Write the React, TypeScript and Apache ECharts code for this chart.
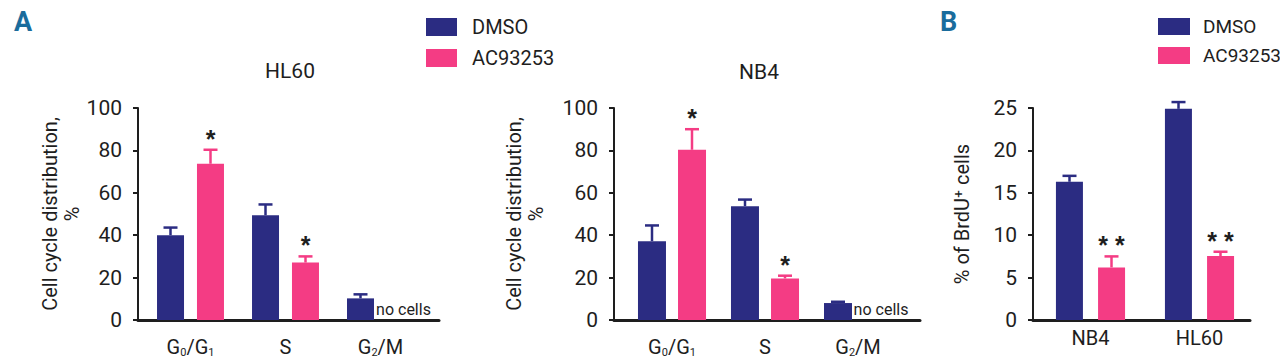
import { useEffect, useRef } from "react";
import * as echarts from "echarts";

// ---------- data ----------
const phases = ["G0/G1", "S", "G2/M"];
const hl60Dmso = [40, 49.4, 10.2];
const hl60DmsoErr = [3.6, 5.1, 1.9];
const hl60Ac = [73.7, 27.1, 0];
const hl60AcErr = [6.6, 2.9, 0];
const hl60Sig = ["*", "*", ""];
const nb4Dmso = [37.2, 53.7, 8.0];
const nb4DmsoErr = [7.4, 3.1, 0.6];
const nb4Ac = [80.3, 19.6, 0];
const nb4AcErr = [9.7, 1.3, 0];
const nb4Sig = ["*", "*", ""];
const acNotes = ["", "", "no cells"];
const cellLines = ["NB4", "HL60"];
const brduDmso = [16.3, 24.9];
const brduDmsoErr = [0.7, 0.8];
const brduAc = [6.2, 7.55];
const brduAcErr = [1.3, 0.5];
const brduSig = ["* *", "* *"];
const seriesNames = ["DMSO", "AC93253"];

const NAVY = "#2B2C82";
const PINK = "#F43C84";
const INK = "#1e1e1e";
const FONT = "Roboto, 'Liberation Sans', sans-serif";

function errSeries(gi: number, vals: number[], errs: number[], offset: number, color: string, sig?: string[]) {
  return {
    type: "custom",
    name: "err" + gi + color,
    xAxisIndex: gi,
    yAxisIndex: gi,
    z: 3,
    data: vals.map((v, i) => [i, v, errs[i]]),
    encode: { x: 0, y: 1 },
    renderItem: (params: any, api: any) => {
      const i = api.value(0);
      const v = api.value(1);
      const e = api.value(2);
      const s = sig ? sig[params.dataIndex] : "";
      const b = api.coord([i, v]);
      const t = api.coord([i, v + e]);
      const x = b[0] + offset;
      const children: any[] = [];
      if (e > 0) {
        children.push(
          { type: "line", shape: { x1: x, y1: b[1], x2: x, y2: t[1] }, style: { stroke: color, lineWidth: 2.5 } },
          { type: "line", shape: { x1: x - 7, y1: t[1], x2: x + 7, y2: t[1] }, style: { stroke: color, lineWidth: 2.5 } }
        );
      }
      if (s) {
        children.push({
          type: "text",
          x,
          y: t[1] - 11,
          style: { text: s, fontSize: 25, fontWeight: "bold", fontFamily: "'Liberation Sans', sans-serif", fill: INK, align: "center", verticalAlign: "middle" },
        });
      }
      return { type: "group", children };
    },
  };
}

function panel(cfg: any) {
  const g = cfg.gi;
  const grids = [
    { left: cfg.decoLeft, width: cfg.decoWidth, top: 108, height: 212 },
    { left: cfg.dataLeft, width: cfg.dataWidth, top: 108, height: 212 },
  ];
  const xAxes = [
    {
      type: "category", gridIndex: g, data: [""],
      axisLine: { show: true, lineStyle: { color: INK, width: 3 } },
      axisTick: { show: false }, axisLabel: { show: false },
    },
    {
      type: "category", gridIndex: g + 1, data: cfg.cats,
      axisLine: { show: false }, axisTick: { show: false },
      axisLabel: {
        interval: 0,
        fontSize: 20, color: INK, fontFamily: FONT, margin: cfg.labelMargin,
        formatter: (v: string) => v.replace(/G(\d)/g, "G{s|$1}"),
        rich: { s: { fontSize: 11, fontFamily: FONT, color: INK, verticalAlign: "bottom", padding: [0, 0, -1, 0] } },
      },
    },
  ];
  const yAxes = [
    {
      type: "value", gridIndex: g, min: 0, max: cfg.yMax, interval: cfg.yInterval,
      axisLine: { show: true, lineStyle: { color: INK, width: 2 } },
      axisTick: { show: true, length: 5, lineStyle: { color: INK, width: 2 } },
      axisLabel: { fontSize: 21, color: INK, fontFamily: FONT, margin: 16 },
      splitLine: { show: false },
      name: cfg.yName, nameLocation: "middle", nameGap: cfg.nameGap, nameRotate: 90,
      nameTextStyle: { fontSize: 20, lineHeight: 22, color: INK, fontFamily: FONT },
    },
    { type: "value", gridIndex: g + 1, min: 0, max: cfg.yMax, interval: cfg.yInterval, show: false },
  ];
  const gapPct = Math.round((cfg.gap / cfg.barWidth) * 100) + "%";
  const off = (cfg.barWidth + cfg.gap) / 2;
  const series = [
    {
      type: "bar", name: seriesNames[0], xAxisIndex: g + 1, yAxisIndex: g + 1,
      data: cfg.dmso, barWidth: cfg.barWidth, barGap: gapPct, itemStyle: { color: NAVY },
    },
    {
      type: "bar", name: seriesNames[1], xAxisIndex: g + 1, yAxisIndex: g + 1,
      barWidth: cfg.barWidth, barGap: gapPct, itemStyle: { color: PINK },
      data: cfg.ac.map((v: number, i: number) =>
        cfg.notes && cfg.notes[i]
          ? { value: v, label: { show: true, position: "top", distance: 3, formatter: cfg.notes[i], fontSize: 16, color: INK, fontFamily: FONT, offset: [3, 0] } }
          : v
      ),
    },
    errSeries(g + 1, cfg.dmso, cfg.dmsoErr, -off, NAVY),
    errSeries(g + 1, cfg.ac, cfg.acErr, off, PINK, cfg.sig),
  ];
  return { grids, xAxes, yAxes, series };
}

export default function App() {
  const ref = useRef<HTMLDivElement>(null);
  useEffect(() => {
    document.body.style.margin = "0";
    if (!ref.current) return;
    const chart = echarts.init(ref.current, null, { renderer: "svg" });
    const panels = [
      panel({
        gi: 0, decoLeft: 138, decoWidth: 301, dataLeft: 143, dataWidth: 285,
        yMax: 100, yInterval: 20, yName: "Cell cycle distribution,\n%", nameGap: 44,
        cats: phases, dmso: hl60Dmso, dmsoErr: hl60DmsoErr, ac: hl60Ac, acErr: hl60AcErr,
        sig: hl60Sig, notes: acNotes, barWidth: 27, gap: 13, labelMargin: 17,
      }),
      panel({
        gi: 2, decoLeft: 614, decoWidth: 306, dataLeft: 625.5, dataWidth: 279,
        yMax: 100, yInterval: 20, yName: "Cell cycle distribution,\n%", nameGap: 67,
        cats: phases, dmso: nb4Dmso, dmsoErr: nb4DmsoErr, ac: nb4Ac, acErr: nb4AcErr,
        sig: nb4Sig, notes: acNotes, barWidth: 28, gap: 12, labelMargin: 17,
      }),
      panel({
        gi: 4, decoLeft: 1033, decoWidth: 217, dataLeft: 1036, dataWidth: 218,
        yMax: 25, yInterval: 5, yName: "% of BrdU\u207A cells", nameGap: 60,
        cats: cellLines, dmso: brduDmso, dmsoErr: brduDmsoErr, ac: brduAc, acErr: brduAcErr,
        sig: brduSig, barWidth: 27, gap: 15, labelMargin: 8,
      }),
    ];
    const legendBase = {
      orient: "vertical", icon: "rect", data: seriesNames, selectedMode: false,
      textStyle: { fontSize: 20, color: INK, fontFamily: FONT, lineHeight: 18, padding: [0, 0, 0, 10] },
    };
    chart.setOption({
      animation: false,
      backgroundColor: "#ffffff",
      grid: panels.flatMap((p) => p.grids),
      xAxis: panels.flatMap((p) => p.xAxes),
      yAxis: panels.flatMap((p) => p.yAxes),
      series: panels.flatMap((p) => p.series),
      legend: [
        { ...legendBase, left: 421, top: 12, itemWidth: 31, itemHeight: 18, itemGap: 11 },
        {
          ...legendBase, left: 1153, top: 12, itemWidth: 32, itemHeight: 17, itemGap: 10,
          textStyle: { ...legendBase.textStyle, fontSize: 19, padding: [0, 0, 0, 8] },
        },
      ],
      graphic: [
        { type: "text", left: 14, top: 8, style: { text: "A", fontSize: 27, fontWeight: "bold", fontFamily: FONT, fill: "#1A6C9C" } },
        { type: "text", left: 940, top: 8, style: { text: "B", fontSize: 27, fontWeight: "bold", fontFamily: FONT, fill: "#1A6C9C" } },
        { type: "text", x: 290, y: 71, style: { text: "HL60", fontSize: 21, fontFamily: FONT, fill: INK, align: "center", verticalAlign: "middle" } },
        { type: "text", x: 759, y: 72, style: { text: "NB4", fontSize: 21, fontFamily: FONT, fill: INK, align: "center", verticalAlign: "middle" } },
      ],
    });
    return () => chart.dispose();
  }, []);
  return <div ref={ref} style={{ width: 1280, height: 364 }} />;
}
